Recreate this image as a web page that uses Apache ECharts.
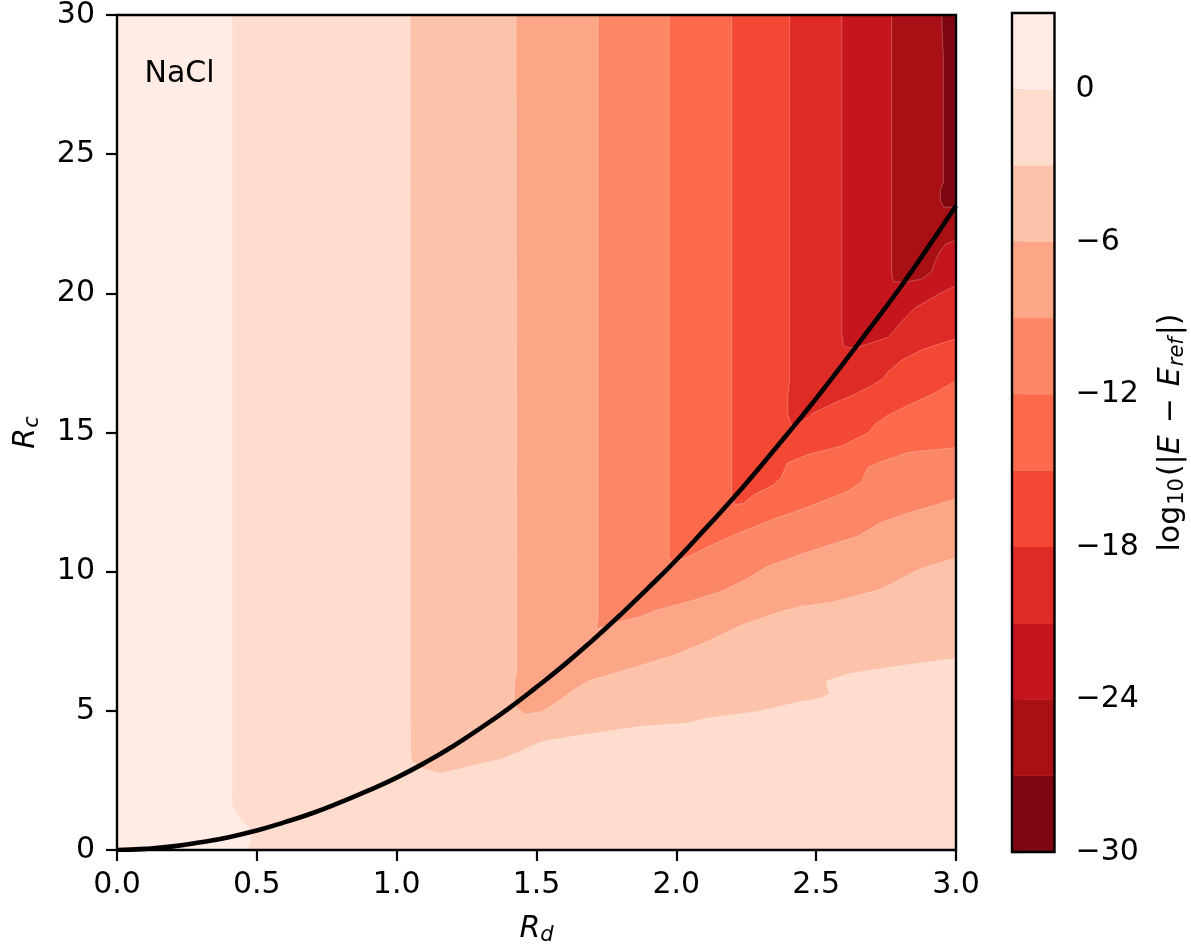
<!DOCTYPE html>
<html>
<head>
<meta charset="utf-8">
<script src="https://cdn.jsdelivr.net/npm/echarts@6/dist/echarts.min.js"></script>
<style>
html,body{margin:0;padding:0;background:#fff;}
#chart{width:1191px;height:951px;}
</style>
</head>
<body>
<div id="chart"></div>
<script>
// ---------- data ----------
const xMin = 0, xMax = 3, yMin = 0, yMax = 30;
const xTickStep = 0.5, yTickStep = 5;
const levels = [-30, -27, -24, -21, -18, -15, -12, -9, -6, -3, 0, 3];
const colorbarTicks = [-30, -24, -18, -12, -6, 0];
const bandColors = ['#7e0610', '#a81016', '#c4161c', '#df2b25', '#f24834', '#fb6a4a',
                    '#fc8767', '#fca587', '#fcc2aa', '#fedcce', '#ffede5'];

// contour edges: boundary of region where log10|E-Eref| < level  (Rd, Rc)
const edgeLevel0 = [[0.411,30],[0.411,2.34],[0.412,1.62],[0.437,1.15],[0.473,0.79],[0.479,0.43],[0.465,0],[3,0]];
const edgeLevelM3 = [[1.048,30],[1.049,4.5],[1.050,3.4],[1.054,3.19],[1.087,2.94],[1.156,2.76],[1.266,3.01],[1.382,3.29],[1.521,3.9],[1.629,4.08],[1.869,4.44],[2.037,4.55],[2.109,4.73],[2.291,4.98],[2.37,5.16],[2.442,5.33],[2.513,5.44],[2.549,5.62],[2.537,5.92],[2.542,6.09],[2.621,6.34],[2.8,6.62],[2.989,6.87],[3,6.88]];
const edgeLevelM6 = [[1.427,30],[1.43,6.4],[1.421,6.0],[1.42,5.2],[1.458,4.88],[1.521,4.98],[1.582,5.37],[1.629,5.73],[1.69,6.09],[1.751,6.27],[1.869,6.62],[1.987,6.98],[2.109,7.48],[2.227,8.06],[2.37,8.56],[2.442,8.74],[2.56,8.91],[2.728,9.36],[2.8,9.74],[2.871,10.1],[3,10.5]];
const edgeLevelM9 = [[1.72,30],[1.72,8.4],[1.714,7.95],[1.772,8.13],[1.869,8.38],[1.929,8.61],[2.048,8.93],[2.166,9.31],[2.252,9.74],[2.322,10.17],[2.44,10.6],[2.53,10.9],[2.65,11.28],[2.728,11.75],[2.828,12.1],[3,12.62]];
const edgeLevelM12 = [[1.974,30],[1.974,10.5],[1.989,10.33],[2.048,10.56],[2.109,10.88],[2.23,11.42],[2.349,11.89],[2.471,12.32],[2.613,12.89],[2.661,13.21],[2.685,13.75],[2.734,13.96],[2.828,14.28],[3,14.46]];
const edgeLevelM15 = [[2.198,30],[2.198,12.76],[2.211,12.4],[2.241,12.46],[2.277,12.76],[2.349,13.12],[2.374,13.37],[2.397,13.9],[2.47,14.21],[2.589,14.51],[2.686,14.99],[2.71,15.3],[2.757,15.62],[2.83,15.98],[2.927,16.43],[3,16.86]];
const edgeLevelM18 = [[2.405,30],[2.405,16.9],[2.398,16.2],[2.4,15.6],[2.413,15.25],[2.445,15.35],[2.49,15.7],[2.567,16.07],[2.64,16.38],[2.7,16.7],[2.74,16.95],[2.757,17.18],[2.807,17.61],[2.878,17.97],[2.93,18.15],[3,18.37]];
const edgeLevelM21 = [[2.592,30],[2.592,18.5],[2.598,18.1],[2.616,18.04],[2.655,18.08],[2.757,18.42],[2.807,19.0],[2.853,19.48],[2.9,19.75],[2.939,19.98],[3,20.28]];
const edgeLevelM24 = [[2.77,30],[2.77,20.8],[2.775,20.42],[2.817,20.4],[2.878,20.51],[2.912,20.78],[2.928,21.2],[2.939,21.45],[2.963,21.77],[3,21.91]];
const edgeLevelM27 = [[2.949,30],[2.952,29],[2.955,28.5],[2.955,24.0],[2.944,23.7],[2.944,23.35],[2.955,23.12],[2.975,23.08],[3,23.15]];

// black curve (Rd, Rc)
const curveRd = [0, 0.1, 0.2, 0.3, 0.4, 0.5, 0.6, 0.7, 0.8, 0.9, 1.0, 1.1, 1.2, 1.3, 1.4, 1.5,
                 1.6, 1.7, 1.8, 1.9, 2.0, 2.1, 2.2, 2.3, 2.4, 2.5, 2.6, 2.7, 2.8, 2.9, 3.0];
const curveRc = [0, 0.04, 0.13, 0.28, 0.46, 0.7, 1.0, 1.33, 1.72, 2.14, 2.6, 3.13, 3.72, 4.38, 5.08, 5.85,
                 6.66, 7.53, 8.45, 9.42, 10.42, 11.5, 12.6, 13.77, 14.98, 16.22, 17.52, 18.85, 20.2, 21.65, 23.15];

const contourEdges = [
  {level: 0, edge: edgeLevel0},
  {level: -3, edge: edgeLevelM3},
  {level: -6, edge: edgeLevelM6},
  {level: -9, edge: edgeLevelM9},
  {level: -12, edge: edgeLevelM12},
  {level: -15, edge: edgeLevelM15},
  {level: -18, edge: edgeLevelM18},
  {level: -21, edge: edgeLevelM21},
  {level: -24, edge: edgeLevelM24},
  {level: -27, edge: edgeLevelM27}
];

// ---------- build ----------
const FONT = 'DejaVu Sans';
const fills = [{pts: [[xMin, yMin], [xMin, yMax], [xMax, yMax], [xMax, yMin]], color: bandColors[levels.length - 2], seam: false}];
contourEdges.forEach(c => {
  const idx = levels.indexOf(c.level) - 1;
  fills.push({pts: c.edge.concat([[xMax, yMax]]), color: bandColors[idx], seam: true});
});
const curveData = curveRd.map((x, i) => [x, curveRc[i]]);
const bandData = bandColors.map((c, i) => [0, levels[i], levels[i + 1]]);

const minus = v => (v < 0 ? '\u2212' + (-v) : String(v));

const chart = echarts.init(document.getElementById('chart'));
chart.setOption({
  animation: false,
  backgroundColor: '#fff',
  textStyle: {fontFamily: FONT},
  grid: [
    {left: 117, top: 13, width: 839, height: 839, show: true, borderColor: '#000', borderWidth: 2.4, backgroundColor: 'transparent', z: 10},
    {left: 1012, top: 13, width: 42.5, height: 839, show: true, borderColor: '#000', borderWidth: 2.4, backgroundColor: 'transparent', z: 10}
  ],
  xAxis: [
    {
      type: 'value', gridIndex: 0, min: xMin, max: xMax, interval: xTickStep,
      axisLine: {show: false},
      axisTick: {show: true, length: 11, lineStyle: {color: '#000', width: 2.2}},
      splitLine: {show: false},
      axisLabel: {fontSize: 30, fontFamily: FONT, color: '#000', margin: 20, formatter: v => v.toFixed(1)},
      name: '{i|R}{s|d}', nameLocation: 'middle', nameGap: 62,
      nameTextStyle: {
        rich: {
          i: {fontSize: 30, fontFamily: FONT, fontStyle: 'italic', color: '#000', lineHeight: 34},
          s: {fontSize: 21, fontFamily: FONT, fontStyle: 'italic', color: '#000', lineHeight: 14, verticalAlign: 'bottom'}
        }
      }
    },
    {type: 'value', gridIndex: 1, min: 0, max: 1, show: false}
  ],
  yAxis: [
    {
      type: 'value', gridIndex: 0, min: yMin, max: yMax, interval: yTickStep,
      axisLine: {show: false},
      axisTick: {show: true, length: 11, lineStyle: {color: '#000', width: 2.2}},
      splitLine: {show: false},
      axisLabel: {fontSize: 30, fontFamily: FONT, color: '#000', margin: 22},
      name: '{i|R}{s|c}', nameLocation: 'middle', nameGap: 74, nameRotate: 90,
      nameTextStyle: {
        rich: {
          i: {fontSize: 30, fontFamily: FONT, fontStyle: 'italic', color: '#000', lineHeight: 34},
          s: {fontSize: 21, fontFamily: FONT, fontStyle: 'italic', color: '#000', lineHeight: 14, verticalAlign: 'bottom'}
        }
      }
    },
    {
      type: 'value', gridIndex: 1, position: 'right', min: levels[0], max: levels[levels.length - 1], interval: 6,
      axisLine: {show: false},
      axisTick: {show: true, length: 10.7, lineStyle: {color: '#000', width: 2.2}, customValues: colorbarTicks},
      splitLine: {show: false},
      axisLabel: {fontSize: 30, fontFamily: FONT, color: '#000', margin: 21, customValues: colorbarTicks,
                  formatter: v => (colorbarTicks.indexOf(v) >= 0 ? minus(v) : '')},
      name: '{r|log}{rs|10}{r|(|}{i|E}{m|\u2212}{i|E}{is|ref}{r||)}',
      nameLocation: 'middle', nameGap: 100, nameRotate: 90,
      nameTextStyle: {
        rich: {
          r: {fontSize: 30, fontFamily: FONT, color: '#000', lineHeight: 34},
          m: {fontSize: 30, fontFamily: FONT, color: '#000', lineHeight: 34, padding: [0, 12, 0, 12]},
          rs: {fontSize: 21, fontFamily: FONT, color: '#000', lineHeight: 14, verticalAlign: 'bottom', padding: [0, 2, 0, 1]},
          i: {fontSize: 30, fontFamily: FONT, fontStyle: 'italic', color: '#000', lineHeight: 34},
          is: {fontSize: 21, fontFamily: FONT, fontStyle: 'italic', color: '#000', lineHeight: 14, verticalAlign: 'bottom', padding: [0, 2, 0, 1]}
        }
      }
    }
  ],
  graphic: [
    {type: 'text', x: 144.5, y: 74, z: 20,
     style: {text: 'NaCl', font: '30px "DejaVu Sans"', fill: '#000', textAlign: 'left', textVerticalAlign: 'middle'}}
  ],
  series: [
    {
      type: 'custom', name: 'contour', xAxisIndex: 0, yAxisIndex: 0, silent: true, z: 1, clip: true,
      data: fills.map(() => [xMin, yMin]),
      renderItem: (params, api) => {
        const f = fills[params.dataIndex];
        return {
          type: 'polygon',
          shape: {points: f.pts.map(p => api.coord(p))},
          style: {fill: f.color, stroke: f.seam ? 'rgba(255,255,255,0.28)' : null, lineWidth: f.seam ? 0.9 : 0}
        };
      }
    },
    {
      type: 'line', name: 'curve', xAxisIndex: 0, yAxisIndex: 0, data: curveData,
      showSymbol: false, symbol: 'none', smooth: 0.5, silent: true, z: 5,
      lineStyle: {color: '#000', width: 4.6}
    },
    {
      type: 'custom', name: 'colorbar', xAxisIndex: 1, yAxisIndex: 1, silent: true, z: 1,
      data: bandData,
      renderItem: (params, api) => {
        const d = bandData[params.dataIndex];
        const p0 = api.coord([0, d[2]]);
        const p1 = api.coord([1, d[1]]);
        return {
          type: 'rect',
          shape: {x: p0[0], y: p0[1], width: p1[0] - p0[0], height: p1[1] - p0[1]},
          style: {fill: bandColors[params.dataIndex], stroke: bandColors[params.dataIndex], lineWidth: 0.5}
        };
      }
    }
  ]
});
</script>
</body>
</html>
